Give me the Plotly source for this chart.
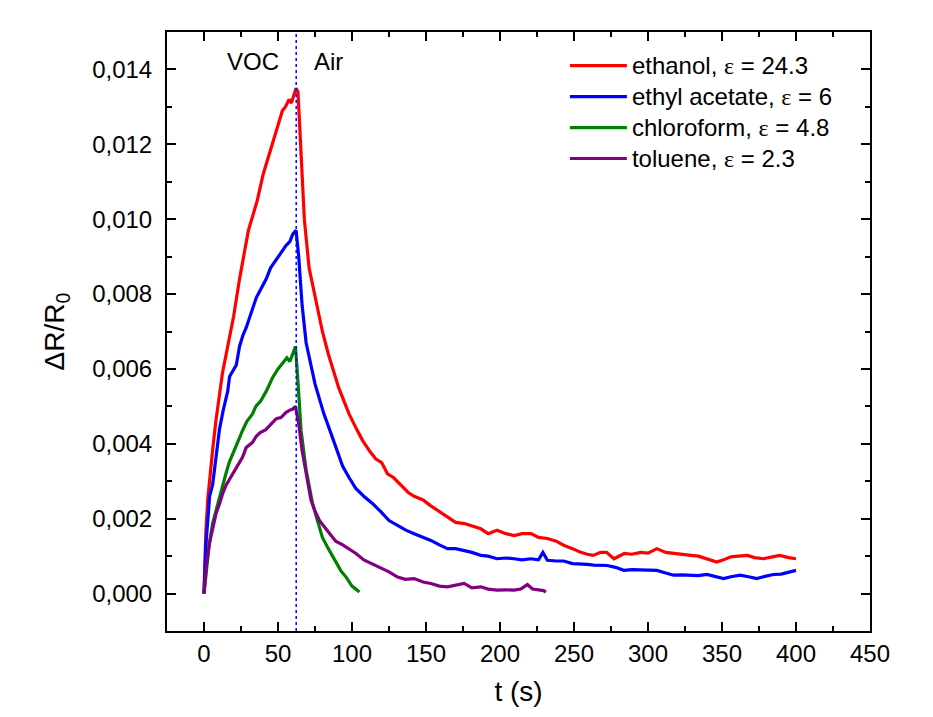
import plotly.graph_objects as go

# ---------------- data ----------------
t_ethanol = [0, 1.2, 2.5, 4, 6, 8, 10, 12.5, 15, 17.5, 20, 24, 27, 30, 33, 36, 40, 43, 46.5, 50,
             53, 55, 57.5, 59, 61, 62.2, 63.5, 65.5, 67.8, 71, 75.5, 80, 84, 87, 91, 95, 98, 103,
             107, 112, 116, 120, 124, 128, 133, 138, 142, 148, 153, 159, 164.5, 170, 176, 181,
             187, 192, 198, 204, 209.5, 215, 221, 226, 232, 238, 243, 249, 254, 259, 263, 268,
             272, 277, 280, 284, 289, 295, 300, 306, 312, 317, 323, 329, 334, 340, 346.5, 351,
             356, 361, 367, 372, 378, 384, 389, 395, 400]
v_ethanol = [0, 0.0016, 0.0025, 0.0032, 0.0039, 0.0046, 0.0052, 0.0059, 0.0064, 0.0069, 0.0074,
             0.0084, 0.0090, 0.0097, 0.0101, 0.0105, 0.0112, 0.0116, 0.0121, 0.0125, 0.0129,
             0.0130, 0.0132, 0.0131, 0.0134, 0.0135, 0.0134, 0.0118, 0.0100, 0.0087, 0.0078,
             0.0070, 0.0064, 0.0060, 0.0055, 0.0051, 0.0048, 0.0044, 0.0041, 0.0038, 0.0036,
             0.0035, 0.0032, 0.0031, 0.0029, 0.0027, 0.0026, 0.0025, 0.00235, 0.0022, 0.00204,
             0.0019, 0.00187, 0.0018, 0.00173, 0.0016, 0.00169, 0.0016, 0.00155, 0.0016, 0.0016,
             0.0015, 0.00147, 0.0014, 0.00129, 0.0012, 0.00111, 0.00105, 0.00102, 0.0011, 0.0011,
             0.00093, 0.0010, 0.00107, 0.00105, 0.0011, 0.00108, 0.0012, 0.0011, 0.00107,
             0.00105, 0.00102, 0.0010, 0.00093, 0.00084, 0.0009, 0.00098, 0.0010, 0.00102,
             0.00096, 0.00093, 0.00098, 0.00102, 0.00096, 0.00093]

t_ethyl = [0, 1.3, 3.8, 5.8, 8, 10.5, 13, 16, 17.3, 20, 21.8, 24, 26.3, 28.5, 32, 35.3, 38, 42,
           45, 48.8, 52, 55.5, 58, 60, 62.2, 64, 66.3, 69, 72, 75, 78, 81, 84.7, 89, 93.7, 98,
           102.7, 108, 114, 119.6, 125, 130.8, 136, 142, 148, 153.3, 159, 164.5, 170, 175.7,
           181, 187, 192, 198, 204, 209.5, 215, 220.7, 226, 229, 232, 238, 243, 249, 254.4,
           259, 263.4, 268, 272.4, 278, 283.6, 289, 294.9, 300, 306, 312, 317.3, 323, 328.6,
           334, 339.8, 345, 351, 356, 362.3, 368, 373.5, 379, 384.7, 390, 396, 400]
v_ethyl = [0, 0.0013, 0.0026, 0.0029, 0.0036, 0.0044, 0.0049, 0.0054, 0.0058, 0.0060, 0.0061,
           0.0066, 0.0069, 0.0071, 0.0075, 0.0079, 0.0081, 0.0084, 0.0087, 0.0089, 0.0091,
           0.0093, 0.0094, 0.0096, 0.0097, 0.0090, 0.0077, 0.0067, 0.0061, 0.0056, 0.0052,
           0.0048, 0.0044, 0.0039, 0.0034, 0.0031, 0.0028, 0.0026, 0.0024, 0.00218, 0.00195,
           0.00182, 0.0017, 0.0016, 0.0015, 0.00142, 0.0013, 0.0012, 0.0012, 0.00115, 0.0011,
           0.00102, 0.0010, 0.00093, 0.00095, 0.00093, 0.0009, 0.00093, 0.0009, 0.0011,
           0.00089, 0.00087, 0.00087, 0.0008, 0.0008, 0.00078, 0.00076, 0.00075, 0.00075,
           0.0007, 0.00062, 0.00064, 0.00064, 0.00062, 0.00062, 0.00055, 0.00049, 0.0005,
           0.00049, 0.00048, 0.00051, 0.00045, 0.0004, 0.00045, 0.00049, 0.00045, 0.0004,
           0.00046, 0.00051, 0.00052, 0.00058, 0.00062]

t_chloro = [0, 1.3, 3.5, 5.8, 8, 10.3, 12.8, 14.8, 17, 19.3, 22, 26, 29, 32.8, 35, 38.4, 42,
            46.5, 50, 53.3, 56, 58, 60, 61.8, 63.4, 65.6, 69, 73.4, 77, 80, 84, 87, 92.6, 96,
            100, 105]
v_chloro = [0, 0.00053, 0.0013, 0.00187, 0.0022, 0.00258, 0.0029, 0.0032, 0.0035, 0.00373,
            0.0040, 0.00435, 0.0046, 0.0048, 0.0050, 0.00515, 0.0054, 0.00578, 0.0060, 0.00618,
            0.0063, 0.0062, 0.0064, 0.0066, 0.0057, 0.00435, 0.0033, 0.0024, 0.0019, 0.0015,
            0.0012, 0.0010, 0.0006, 0.00044, 0.0002, 0.00004]

t_toluene = [0, 1.5, 3.6, 6, 8.1, 10.5, 12.6, 15, 19.3, 22, 26, 28.5, 32.8, 35.3, 38, 41.8, 45,
             48.8, 52, 55.5, 58, 60, 61.8, 64, 66.3, 69, 72.3, 75, 78, 81, 84.7, 89, 93.7, 98,
             102.7, 108, 114, 119.6, 125, 130.8, 136, 142, 148, 153.3, 159, 164.5, 170, 175.7,
             181, 187, 192, 198, 204, 209.5, 214, 218.5, 222, 226, 229.5, 231]
v_toluene = [0, 0.0007, 0.00133, 0.0018, 0.00213, 0.0024, 0.00267, 0.0029, 0.0032, 0.0034,
             0.00364, 0.0039, 0.00404, 0.0042, 0.0043, 0.00438, 0.0045, 0.00467, 0.0047,
             0.00484, 0.0049, 0.00493, 0.0050, 0.00453, 0.00382, 0.0032, 0.0025, 0.0022,
             0.00195, 0.0018, 0.0016, 0.0014, 0.0013, 0.0012, 0.00107, 0.0009, 0.00078,
             0.00067, 0.00058, 0.00044, 0.00038, 0.0004, 0.00031, 0.00027, 0.0002, 0.00018,
             0.00022, 0.00027, 0.00015, 0.00018, 0.00012, 0.00009, 0.0001, 0.00009, 0.00012,
             0.00024, 0.00012, 0.00009, 0.00008, 0.00004]

series_solvents = ["ethanol", "ethyl acetate", "chloroform", "toluene"]
series_eps = ["24.3", "6", "4.8", "2.3"]
series_colors = ["#ff0000", "#0000ff", "#008000", "#800080"]
switch_time = 62.3
x_ticks = [0, 50, 100, 150, 200, 250, 300, 350, 400, 450]
y_ticks = [0.000, 0.002, 0.004, 0.006, 0.008, 0.010, 0.012, 0.014]

FONT = "Liberation Sans, Arial, sans-serif"

fig = go.Figure()
for t, v, solv, eps, col in zip([t_ethanol, t_ethyl, t_chloro, t_toluene],
                                [v_ethanol, v_ethyl, v_chloro, v_toluene],
                                series_solvents, series_eps, series_colors):
    label = ('<span style="font-size:24px">' + solv + ', '
             + '<span style="font-family:Liberation Serif, serif">ε</span>'
             + ' = ' + eps + '</span>')
    fig.add_trace(go.Scatter(x=t, y=v, mode="lines", name=label,
                             line=dict(color=col, width=3.2)))

fig.add_shape(type="line", xref="x", yref="paper", x0=switch_time, x1=switch_time,
              y0=0, y1=1, line=dict(color="#0000ff", width=1.5, dash="dot"))

fig.add_annotation(x=33, y=0.01422, xref="x", yref="y", text="VOC", showarrow=False,
                   font=dict(size=24, color="black", family=FONT))
fig.add_annotation(x=84, y=0.01422, xref="x", yref="y", text="Air", showarrow=False,
                   font=dict(size=24, color="black", family=FONT))

axis_common = dict(showline=True, linecolor="black", linewidth=2, mirror="allticks",
                   ticks="inside", ticklen=9, tickwidth=2, tickcolor="black",
                   showgrid=False, zeroline=False,
                   tickfont=dict(size=24, color="black", family=FONT))

fig.update_xaxes(range=[-25, 450], tickvals=x_ticks,
                 minor=dict(dtick=25, tick0=0, ticks="inside", ticklen=5, tickwidth=2,
                            tickcolor="black", showgrid=False),
                 title=dict(text="t (s)", font=dict(size=28, color="black", family=FONT),
                            standoff=16),
                 ticklabelstandoff=0,
                 **axis_common)
fig.update_yaxes(range=[-0.001, 0.015], tickvals=y_ticks, tickformat=".3f",
                 minor=dict(dtick=0.001, tick0=0, ticks="inside", ticklen=5, tickwidth=2,
                            tickcolor="black", showgrid=False),
                 title=dict(text="ΔR/R<sub>0</sub>", font=dict(size=28, color="black", family=FONT),
                            standoff=19),
                 ticklabelstandoff=8,
                 **axis_common)

fig.update_layout(
    width=925, height=709,
    margin=dict(l=159, r=63, t=24, b=86),
    paper_bgcolor="white", plot_bgcolor="white",
    separators=", ",
    font=dict(family=FONT, color="black"),
    legend=dict(x=0.566, y=0.978, xanchor="left", yanchor="top",
                bgcolor="rgba(0,0,0,0)", borderwidth=0, itemwidth=57,
                font=dict(size=21.5, color="black", family=FONT),
                tracegroupgap=0),
    showlegend=True,
)

fig.write_html("out.html")
